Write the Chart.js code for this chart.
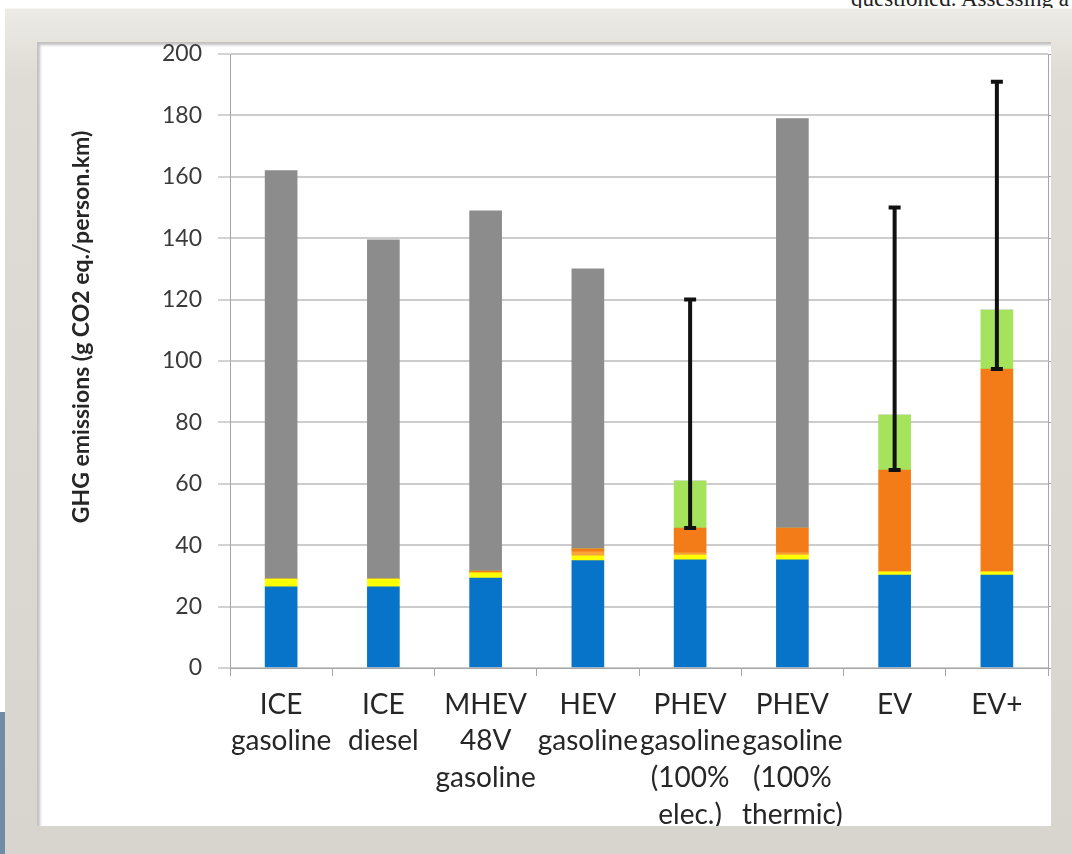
<!DOCTYPE html>
<html lang="en">
<head>
<meta charset="UTF-8">
<title>GHG emissions per vehicle type</title>
<script src="https://cdn.jsdelivr.net/npm/chart.js"></script>
<style>
  body {
    margin: 0;
    width: 1072px;
    height: 854px;
    position: relative;
    overflow: hidden;
    background: #fff;
    font-family: Lato, sans-serif;
  }
  /* running text of the page above the figure */
  .caption {
    position: absolute;
    left: 851px;
    top: -13px;
    font: 23px/23px "Liberation Serif", serif;
    color: #222;
    white-space: nowrap;
  }
  .frame {
    position: absolute;
    left: 5px;
    top: 8px;
    right: 0;
    bottom: 0;
    background: linear-gradient(#ecebe5, #dfdcd5 8%, #d8d5ce);
    border-top: 1px solid #f6f5f1;
  }
  .tab {
    position: absolute;
    left: 0;
    top: 712px;
    width: 5px;
    height: 142px;
    background: #6f8ca6;
  }
  .panel {
    position: absolute;
    left: 37px;
    top: 42px;
    width: 1014px;
    height: 784px;
    background: #fff;
    overflow: hidden;
    box-shadow: inset 3px 3px 3px rgba(0, 0, 0, 0.25);
  }
</style>
</head>
<body>
<div class="caption">questioned. Assessing a</div>
<div class="frame"></div>
<div class="tab"></div>
<div class="panel">
  <canvas id="ghg" width="1014" height="784"></canvas>
</div>

<script>
// vehicle types, one label line per array entry
const categories = [
  ['ICE', 'gasoline'],
  ['ICE', 'diesel'],
  ['MHEV', '48V', 'gasoline'],
  ['HEV', 'gasoline'],
  ['PHEV', 'gasoline', '(100%', 'elec.)'],
  ['PHEV', 'gasoline', '(100%', 'thermic)'],
  ['EV'],
  ['EV+']
];

// stacked contributions, g CO2 eq./person.km
const production  = [26.4, 26.4, 29.3, 35.0, 35.2, 35.2, 30.3, 30.3];
const maintenance = [2.6, 2.6, 1.7, 1.5, 1.6, 1.6, 1.0, 1.0];
const battery     = [0, 0, 0, 1.3, 0.7, 0.7, 0, 0];
const electricity = [0, 0, 0.6, 1.0, 8.1, 8.1, 33.2, 66.1];
const gridExtra   = [0, 0, 0, 0, 15.3, 0, 17.9, 19.2];
const fuel        = [133.0, 110.5, 117.3, 91.2, 0, 133.4, 0, 0];

// uncertainty range drawn as black whiskers
const errorLow  = [null, null, null, null, 45.6, null, 64.5, 97.4];
const errorHigh = [null, null, null, null, 120, null, 150, 191];

const yTicks = [0, 20, 40, 60, 80, 100, 120, 140, 160, 180, 200];

const axisTitle = {
  id: 'axisTitle',
  afterDraw(chart) {
    const { ctx, chartArea } = chart;
    ctx.save();
    ctx.translate(chartArea.left - 148, (chartArea.top + chartArea.bottom) / 2 - 34);
    ctx.rotate(-Math.PI / 2);
    ctx.font = 'bold 23px Lato';
    ctx.fillStyle = '#262626';
    ctx.textAlign = 'center';
    ctx.textBaseline = 'middle';
    ctx.fillText('GHG emissions (g CO2 eq./person.km)', 0, 0);
    ctx.restore();
  }
};

const errorBars = {
  id: 'errorBars',
  afterDatasetsDraw(chart) {
    const { ctx } = chart;
    const x = chart.scales.x;
    const y = chart.scales.y;
    ctx.save();
    ctx.strokeStyle = '#111';
    ctx.lineWidth = 4;
    errorHigh.forEach((hi, i) => {
      if (hi == null) return;
      const px = x.getPixelForValue(i);
      const top = y.getPixelForValue(hi);
      const bottom = y.getPixelForValue(errorLow[i]);
      ctx.beginPath();
      ctx.moveTo(px, top);
      ctx.lineTo(px, bottom);
      ctx.moveTo(px - 6, top);
      ctx.lineTo(px + 6, top);
      ctx.moveTo(px - 6, bottom);
      ctx.lineTo(px + 6, bottom);
      ctx.stroke();
    });
    ctx.restore();
  }
};

const bar = (data, color) => ({
  data,
  backgroundColor: color,
  borderWidth: 0,
  barThickness: 32,
  stack: 'total'
});

new Chart(document.getElementById('ghg'), {
  type: 'bar',
  data: {
    labels: categories,
    datasets: [
      bar(production, '#0874c9'),
      bar(maintenance, '#ffff00'),
      bar(battery, '#f9a33b'),
      bar(electricity, '#f47c18'),
      bar(gridExtra, '#a5e35c'),
      bar(fuel, '#8c8c8c')
    ]
  },
  options: {
    responsive: false,
    animation: false,
    layout: { padding: { top: 12, left: 0, right: 0, bottom: 0 } },
    plugins: {
      legend: { display: false },
      tooltip: { enabled: false }
    },
    scales: {
      x: {
        stacked: true,
        offset: true,
        grid: {
          offset: true,
          drawOnChartArea: false,
          tickLength: 8,
          color: '#a6a6a6'
        },
        border: { color: '#a6a6a6' },
        ticks: {
          autoSkip: false,
          maxRotation: 0,
          minRotation: 0,
          padding: 10,
          color: '#262626',
          font: { family: 'Lato', size: 28, lineHeight: 1.32 }
        },
        afterFit(s) {
          s.height = 158;
          s.paddingLeft = 0;
          s.paddingRight = 0;
        }
      },
      y: {
        stacked: true,
        min: 0,
        max: 200,
        afterBuildTicks(s) {
          s.ticks = yTicks.map(v => ({ value: v }));
        },
        grid: {
          color: '#cccccc',
          lineWidth: 2,
          tickLength: 12,
          tickColor: '#a6a6a6',
          tickWidth: 1
        },
        border: { color: '#a6a6a6' },
        ticks: {
          padding: 16,
          color: '#3a3a3a',
          font: { family: 'Lato', size: 23 }
        },
        afterFit(s) {
          s.width = 193;
          s.paddingTop = 0;
          s.paddingBottom = 0;
        }
      },
      y2: {
        position: 'right',
        min: 0,
        max: 200,
        afterBuildTicks(s) {
          s.ticks = yTicks.map(v => ({ value: v }));
        },
        grid: {
          drawOnChartArea: false,
          tickLength: 3,
          color: '#a6a6a6'
        },
        border: { color: '#a6a6a6' },
        ticks: { display: false },
        afterFit(s) {
          s.width = 3;
          s.paddingTop = 0;
          s.paddingBottom = 0;
        }
      }
    }
  },
  plugins: [axisTitle, errorBars]
});
</script>
</body>
</html>
